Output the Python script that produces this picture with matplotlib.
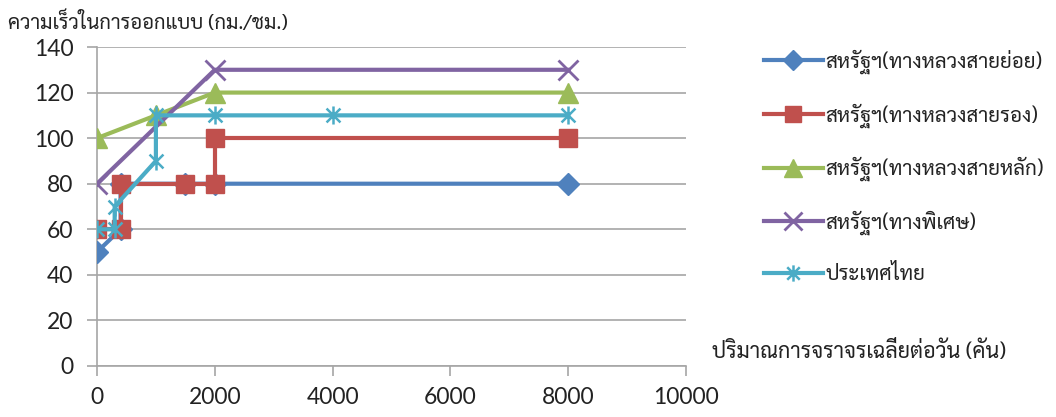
import matplotlib
matplotlib.use("Agg")
import matplotlib.pyplot as plt
from matplotlib.path import Path

# design speed vs. average daily traffic
us_local_x = [0, 400, 400, 1500, 2000, 8000]
us_local_y = [50, 60, 80, 80, 80, 80]
us_collector_x = [0, 400, 400, 1500, 2000, 2000, 8000]
us_collector_y = [60, 60, 80, 80, 80, 100, 100]
us_arterial_x = [0, 1000, 2000, 8000]
us_arterial_y = [100, 110, 120, 120]
us_special_x = [0, 2000, 8000]
us_special_y = [80, 130, 130]
thai_x = [0, 300, 300, 1000, 1000, 2000, 4000, 8000]
thai_y = [60, 60, 70, 90, 110, 110, 110, 110]

labels = [
    "สหรัฐฯ(ทางหลวงสายย่อย)",
    "สหรัฐฯ(ทางหลวงสายรอง)",
    "สหรัฐฯ(ทางหลวงสายหลัก)",
    "สหรัฐฯ(ทางพิเศษ)",
    "ประเทศไทย",
]
x_ticks = [0, 2000, 4000, 6000, 8000, 10000]
y_ticks = [0, 20, 40, 60, 80, 100, 120, 140]

thai_font = ["Sarabun", "DejaVu Sans"]
num_font = ["Lato", "DejaVu Sans"]

# asterisk marker: an x crossed by a vertical bar
star = Path([(-1, -1), (1, 1), (-1, 1), (1, -1), (0, -1.3), (0, 1.3)],
            [Path.MOVETO, Path.LINETO, Path.MOVETO, Path.LINETO, Path.MOVETO, Path.LINETO])

fig = plt.figure(figsize=(10.56, 4.17), dpi=100)
ax = fig.add_axes([97 / 1056, 1 - 366 / 417, (686 - 97) / 1056, (366 - 47) / 417])

lw = 3.0
ax.plot(us_local_x, us_local_y, color="#4F81BD", lw=lw, marker="D", ms=11,
        label=labels[0], zorder=3)
ax.plot(us_collector_x, us_collector_y, color="#C0504D", lw=lw, marker="s", ms=13.5,
        label=labels[1], zorder=4)
ax.plot(us_arterial_x, us_arterial_y, color="#9BBB59", lw=lw, marker="^", ms=14,
        label=labels[2], zorder=5)
ax.plot(us_special_x, us_special_y, color="#8064A2", lw=lw, marker="x", ms=14, mew=2,
        label=labels[3], zorder=6)
ax.plot(thai_x, thai_y, color="#4BACC6", lw=lw, marker=star, ms=13, mew=1.8,
        label=labels[4], zorder=7)

ax.set_xlim(0, 10000)
ax.set_ylim(0, 140)
ax.set_xticks(x_ticks)
ax.set_yticks(y_ticks)
ax.set_xticklabels([str(t) for t in x_ticks], family=num_font, fontsize=16.5, color="#222222")
ax.set_yticklabels([str(t) for t in y_ticks], family=num_font, fontsize=16.5, color="#222222")
ax.grid(axis="y", color="#A6A6A6", lw=1.2)
ax.set_axisbelow(True)
for side in ["top", "right"]:
    ax.spines[side].set_visible(False)
for side in ["left", "bottom"]:
    ax.spines[side].set_color("#A6A6A6")
    ax.spines[side].set_linewidth(1.2)
ax.tick_params(axis="x", length=7, width=1.2, color="#A6A6A6", pad=8)
ax.tick_params(axis="y", length=7, width=1.2, color="#A6A6A6", pad=10)

fig.text(8 / 1056, 1 - 22 / 417, "ความเร็วในการออกแบบ (กม./ชม.)", family=thai_font,
         fontsize=14.5, va="center", ha="left", color="#222222")
fig.text(712 / 1056, 1 - 352 / 417, "ปริมาณการจราจรเฉลี่ยต่อวัน (คัน)", family=thai_font,
         fontsize=15.5, va="center", ha="left", color="#222222")

leg = fig.legend(loc="upper left", bbox_to_anchor=(745 / 1056, 1 - 31 / 417), frameon=False,
                 prop={"family": thai_font, "size": 14.8}, handlelength=2.9,
                 handletextpad=0.1, labelspacing=1.42, markerscale=0.9)
for text in leg.get_texts():
    text.set_color("#222222")

fig.savefig("out.png", dpi=100)
